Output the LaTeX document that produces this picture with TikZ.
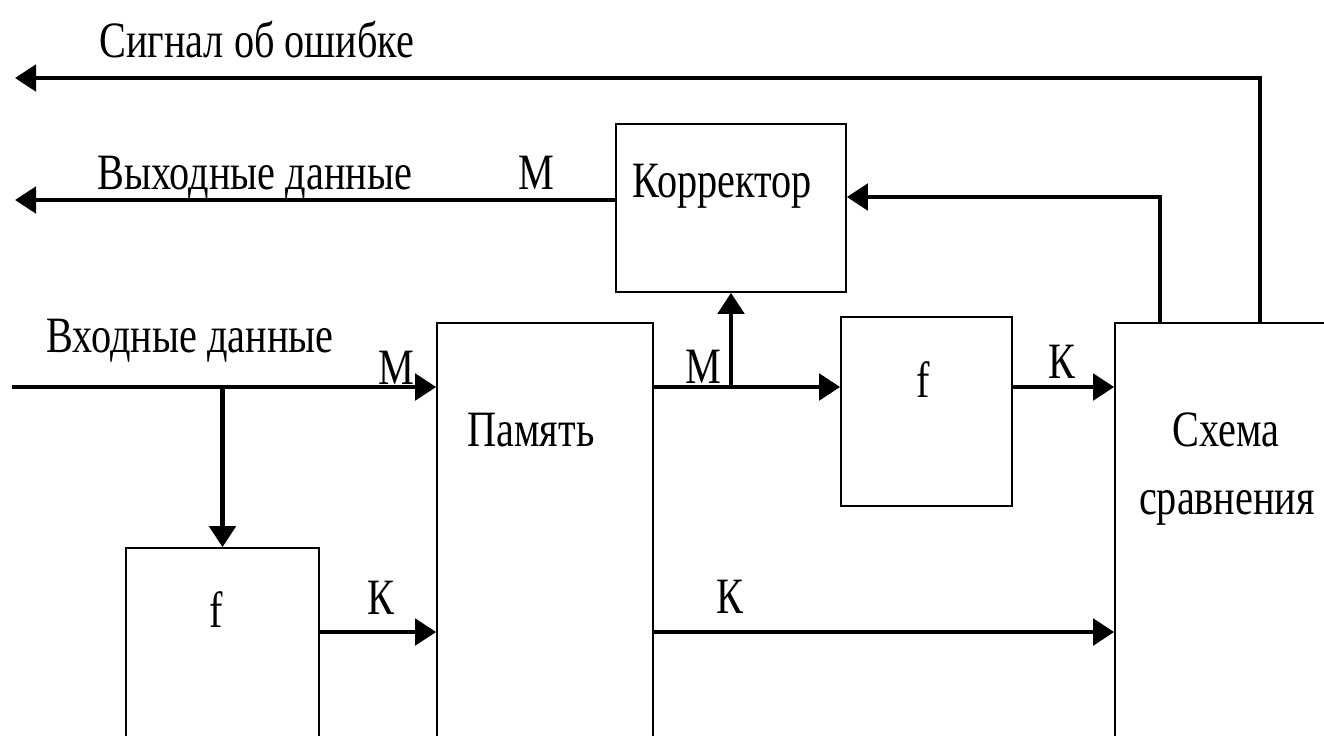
\documentclass[tikz,border=0pt]{standalone}
\usepackage{fontspec}
\setmainfont{Liberation Serif}[FakeStretch=0.79]
\usetikzlibrary{arrows.meta,calc}

\begin{document}
\begin{tikzpicture}[x=0.02cm,y=-0.02cm,
    blk/.style={draw,line width=1pt,inner sep=0pt},
    sig/.style={line width=2.4pt,-{Triangle[length=12pt,width=15pt]}},
    lbl/.style={anchor=base,inner sep=0pt,font=\fontsize{29}{34}\selectfont}]
        \useasboundingbox (0,0) rectangle (1324,735);
        \clip (0,0) rectangle (1324,735);
        \fill[white] (0,0) rectangle (1324,735);

        % blocks
        \node[blk,minimum width=4.6cm,minimum height=3.36cm] (corr) at (731,208) {};
        \node[blk,minimum width=4.32cm,minimum height=9.54cm] (mem) at (545,561.5) {};
        \node[blk,minimum width=3.86cm,minimum height=5.04cm] (fl) at (222.5,674) {};
        \node[blk,minimum width=3.42cm,minimum height=3.78cm] (fr) at (926.5,411.5) {};
        \node[blk,minimum width=5.8cm,minimum height=9.54cm] (cmp) at (1260,561.5) {};

        \node[lbl] (corrtxt) at (722,197) {Корректор};
        \node[lbl] (memtxt) at (531,446) {Память};
        \node[lbl] (fltxt) at (216,627) {f};
        \node[lbl] (frtxt) at (923,397) {f};
        \node[lbl] (cmptxt) at (1226,446) {Схема};
        \node[lbl] (cmptxtb) at (1227,514) {сравнения};

        % free ends
        \coordinate (errtip) at (15,78);
        \coordinate (outtip) at (15,200);
        \coordinate (intail) at (12,387);
        \coordinate (krow) at (0,632);

        % connectors
        \draw[sig] (cmp.north) |- (errtip);
        \draw[sig] (outtip -| corr.west) -- (outtip);
        \draw[sig] ([xshift=-2cm]cmp.north) |- ([yshift=0.22cm]corr.east);
        \draw[sig] (intail) -- (intail -| mem.west);
        \draw[sig] (intail -| fl.north) -- (fl.north);
        \draw[sig] (intail -| mem.east) -- (intail -| fr.west);
        \draw[sig] (intail -| corr.south) -- (corr.south);
        \draw[sig] (intail -| fr.east) -- (intail -| cmp.west);
        \draw[sig] (krow -| fl.east) -- (krow -| mem.west);
        \draw[sig] (krow -| mem.east) -- (krow -| cmp.west);

        % signal names
        \node[lbl,anchor=base west] (errtxt) at (99,57) {Сигнал об ошибке};
        \node[lbl,anchor=base west] (outtxt) at (97,189) {Выходные данные};
        \node[lbl,anchor=base west] (intxt) at (46,352) {Входные данные};
        \node[lbl] (outm) at (536,189) {М};
        \node[lbl] (inm) at (396,384) {М};
        \node[lbl] (memm) at (703,383) {М};
        \node[lbl] (flk) at (381,614) {К};
        \node[lbl] (frk) at (1062,378) {К};
        \node[lbl] (memk) at (730,613) {К};
      \end{tikzpicture}
\end{document}
